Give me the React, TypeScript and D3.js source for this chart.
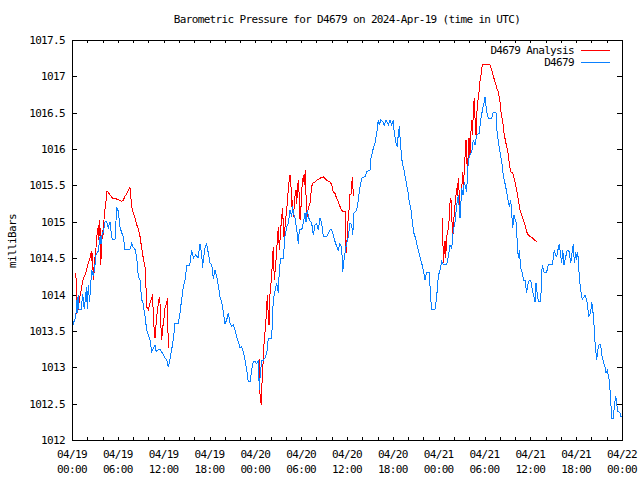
import React from "react";
import * as d3 from "d3";

// ---- data: hours after 2024-04-19 00:00 UTC and pressure (mb) ----
const obsHours = [
  0, 0.17, 0.5, 0.62, 0.7, 0.8, 0.92, 1.2, 1.4, 1.6, 1.9, 2.0, 2.13, 2.3, 2.58, 2.79, 3.0, 3.14, 3.44, 3.67,
  3.8, 3.97, 4.1, 4.32, 4.54, 4.75, 4.97, 5.2, 5.4, 5.63, 5.85, 6.06, 6.28, 6.5, 6.72, 6.94, 7.59, 7.81, 8.0, 8.25,
  8.47, 8.68, 8.9, 9.12, 9.3, 9.56, 9.78, 9.99, 10.2, 10.43, 10.6, 10.87, 11.0, 11.52, 11.8, 12.17, 12.4, 12.61, 12.8, 13.05,
  13.3, 13.48, 13.9, 14.14, 14.35, 14.57, 14.8, 15.02, 15.4, 15.67, 15.9, 16.2, 16.5, 16.76,
  16.98, 17.11, 17.19, 17.41, 17.63, 17.84, 18.07, 18.29, 18.5, 18.72, 18.94, 19.15, 19.37, 19.6, 19.81, 20.03, 20.25, 20.46, 20.68, 20.91,
  21.12, 21.34, 21.56, 21.77, 21.99, 22.22, 22.43, 22.65, 22.87, 23.08, 23.3, 23.52, 23.73, 23.96, 24.18, 24.39, 24.52, 24.68, 24.87, 25.04,
  25.27, 25.49, 25.7, 26.14, 26.35, 26.57, 26.8, 27.01, 27.14, 27.32, 27.66, 27.88, 28.11, 28.32, 28.54, 28.76, 28.89, 28.97, 29.19, 29.42,
  29.63, 29.76, 30.07, 30.28, 30.5, 30.63, 30.8, 31.06, 31.38, 31.59, 31.81, 32.03, 32.24, 32.47, 32.69, 32.9, 33.34, 33.77, 34.0, 34.21,
  34.43, 34.65, 34.86, 35.08, 35.31, 35.44, 35.57, 35.87, 36.17, 36.39, 36.62, 36.75, 36.92, 37.27, 37.48, 37.7, 37.92, 38.36, 38.58, 39.01,
  39.14, 39.44, 39.67, 39.89, 40.1, 40.23, 40.41, 40.67, 40.88, 41.11, 41.41, 41.63, 41.85, 42.06, 42.19, 42.42, 42.59, 42.72, 42.85, 42.94,
  43.07, 43.24, 43.46, 43.68, 43.94, 44.12, 44.38, 44.55, 44.77, 44.99, 45.2, 45.56, 45.78, 45.99, 46.21, 46.43, 46.77, 46.96, 47.09, 47.52,
  47.74, 47.95, 48.17, 48.4, 48.61, 49.05, 49.26, 49.48, 49.71, 49.92, 50.14, 50.36, 50.57, 50.79, 51.02, 51.19, 51.36, 51.67, 51.8, 52.01,
  52.33, 52.53, 52.76, 52.98, 53.32, 53.5, 53.77, 53.94, 54.07, 54.29, 54.5, 54.94, 55.07, 55.24, 55.5, 55.6, 55.81, 56.03, 56.25, 56.46,
  56.68, 56.91, 57.12, 57.25, 57.43, 57.56, 57.69, 57.86, 58.12, 58.29, 58.42, 58.56, 58.74, 59.0, 59.08, 59.3, 59.52, 59.65, 59.86, 60.08,
  60.31, 60.48, 60.61, 60.74, 60.96, 61.13, 61.36, 61.49, 61.57, 61.79, 62.14, 62.35, 62.87, 63.0, 63.13, 63.29, 63.45, 63.66, 63.79, 63.97,
  64.1, 64.24, 64.41, 64.63, 64.84, 65.1, 65.28, 65.42, 65.63, 65.76, 65.94, 66.07, 66.2, 66.37, 66.5, 66.63, 66.8, 67.02, 67.15, 67.38,
  67.51, 67.68, 67.9, 68.03, 68.16, 68.33, 68.42, 68.6, 68.69, 68.82, 68.99, 69.21, 69.34, 69.55, 69.77, 69.9, 70.08, 70.34, 70.52, 70.65,
  70.86, 70.99, 71.18, 71.31, 71.39, 71.52, 71.74, 71.83, 72.0,
];
const obsValues = [
  1013.70, 1013.60, 1013.70, 1013.92, 1013.75, 1014.00, 1013.80, 1013.80, 1014.00, 1013.80, 1014.10, 1013.80, 1014.13, 1013.90, 1014.34, 1014.25, 1014.40, 1014.54, 1014.60, 1014.80,
  1014.70, 1014.85, 1014.85, 1015.00, 1015.00, 1014.92, 1015.00, 1014.78, 1014.75, 1014.76, 1015.19, 1015.15, 1014.93, 1014.85, 1014.80, 1014.62, 1014.62, 1014.70, 1014.65, 1014.62,
  1014.52, 1014.25, 1014.20, 1013.93, 1013.88, 1013.70, 1013.51, 1013.44, 1013.38, 1013.22, 1013.25, 1013.30, 1013.22, 1013.25, 1013.20, 1013.13, 1013.10, 1013.00, 1013.10, 1013.24,
  1013.42, 1013.60, 1013.60, 1013.75, 1013.93, 1014.10, 1014.20, 1014.40, 1014.40, 1014.61, 1014.50, 1014.55, 1014.50, 1014.70,
  1014.54, 1014.37, 1014.48, 1014.64, 1014.70, 1014.57, 1014.43, 1014.41, 1014.22, 1014.34, 1014.25, 1014.13, 1013.97, 1013.90, 1013.76, 1013.60, 1013.65, 1013.75, 1013.61, 1013.56,
  1013.58, 1013.51, 1013.42, 1013.35, 1013.27, 1013.28, 1013.21, 1013.10, 1012.96, 1012.80, 1012.80, 1012.96, 1013.08, 1013.08, 1013.05, 1013.10, 1012.69, 1012.96, 1013.10, 1013.10,
  1013.13, 1013.19, 1013.40, 1013.40, 1013.93, 1014.04, 1014.16, 1014.02, 1014.34, 1014.50, 1014.50, 1014.80, 1014.93, 1014.98, 1015.16, 1015.07, 1015.21, 1015.12, 1015.05, 1014.89,
  1014.70, 1014.89, 1014.89, 1014.98, 1015.12, 1015.00, 1015.16, 1015.03, 1014.98, 1014.82, 1014.96, 1014.98, 1014.89, 1015.05, 1014.98, 1014.80, 1014.80, 1014.89, 1014.89, 1014.82,
  1014.73, 1014.66, 1014.61, 1014.70, 1014.64, 1014.31, 1014.45, 1014.66, 1014.80, 1014.98, 1014.96, 1014.82, 1015.12, 1015.16, 1015.30, 1015.48, 1015.60, 1015.62, 1015.69, 1015.71,
  1015.87, 1016.01, 1016.08, 1016.22, 1016.40, 1016.33, 1016.40, 1016.38, 1016.33, 1016.40, 1016.33, 1016.40, 1016.33, 1016.40, 1016.22, 1016.08, 1016.03, 1016.22, 1016.31, 1016.17,
  1015.99, 1015.80, 1015.71, 1015.58, 1015.44, 1015.30, 1015.16, 1015.00, 1014.84, 1014.77, 1014.66, 1014.52, 1014.43, 1014.34, 1014.20, 1014.31, 1014.31, 1013.93, 1013.80, 1013.80,
  1013.97, 1014.25, 1014.34, 1014.45, 1014.41, 1014.41, 1014.52, 1014.68, 1014.64, 1014.89, 1015.00, 1015.23, 1015.37, 1015.05, 1015.46, 1015.37, 1015.55, 1015.41, 1015.74, 1015.90,
  1015.96, 1016.12, 1016.06, 1016.19, 1016.22, 1016.40, 1016.56, 1016.63, 1016.72, 1016.51, 1016.42, 1016.42, 1016.49, 1016.51, 1016.51, 1016.29, 1016.10, 1015.96, 1015.83, 1015.64,
  1015.53, 1015.41, 1015.28, 1015.21, 1015.30, 1015.12, 1014.91, 1015.09, 1015.00, 1014.73, 1014.50, 1014.61, 1014.36, 1014.29, 1014.20, 1014.20, 1014.02, 1014.13, 1014.20, 1014.18,
  1014.04, 1013.97, 1013.90, 1014.16, 1013.95, 1013.90, 1013.90, 1014.29, 1014.41, 1014.31, 1014.31, 1014.41, 1014.41, 1014.50, 1014.61, 1014.54, 1014.52, 1014.64, 1014.70, 1014.54,
  1014.43, 1014.61, 1014.41, 1014.52, 1014.61, 1014.59, 1014.43, 1014.54, 1014.70, 1014.43, 1014.59, 1014.48, 1014.59, 1014.31, 1014.15, 1014.04, 1013.93, 1013.97, 1013.99, 1013.93,
  1013.81, 1013.70, 1013.76, 1013.90, 1013.81, 1013.60, 1013.40, 1013.19, 1013.10, 1013.24, 1013.31, 1013.31, 1013.17, 1013.08, 1013.01, 1012.92, 1012.96, 1012.82, 1012.55, 1012.30,
  1012.30, 1012.46, 1012.60, 1012.53, 1012.39, 1012.39, 1012.37, 1012.32, 1012.32,
];

// analysis series: null marks a gap between segments
const anaHours = [
  0.52, 0.56, 0.69, 0.82, 0.96, 1.14, 1.27, 1.48, 1.7, 1.92, 2.13, 2.36, 2.49, 2.58, 2.66, 2.71, 2.79, 2.92, 3.01, 3.14,
  3.23, 3.36, 3.44, 3.53, 3.57, 3.67, 3.76, 3.89, 4.02, 4.1, 4.23, 4.41, 4.54, 4.67, 4.97, 5.33, 5.63, 5.93, 6.19, 6.51,
  6.72, 6.94, 7.16, 7.59, 7.81, 8.02, 8.25, 8.47, 8.68, 8.9, 9.12, 9.33, 9.56, 9.69, 9.78, 9.99, 10.21, 10.43, 10.56, 10.64,
  10.77, 10.87, 11.09, 11.3, 11.43, 11.52, 11.65, 11.74, 11.87, 12.04, 12.17, 12.4, 12.48, 12.61,
  null,
  24.52, 24.61, 24.78, 24.91, 25.04, 25.13, 25.36, 25.49, 25.57, 25.66, 25.79, 25.92, 26.14, 26.27, 26.35, 26.48, 26.61, 26.8, 26.88, 27.01,
  27.14, 27.32, 27.45, 27.58, 27.66, 27.79, 27.92, 28.11, 28.24, 28.41, 28.54, 28.67, 28.76, 28.84, 28.97, 29.1, 29.19, 29.32, 29.42, 29.54,
  29.68, 29.76, 29.85, 29.98, 30.11, 30.28, 30.41, 30.54, 30.63, 30.72, 30.85, 30.98, 31.15, 31.28, 31.46, 31.81, 32.03, 32.47, 32.9, 33.34,
  33.77, 34.0, 34.21, 34.43, 34.65, 34.86, 35.08, 35.31, 35.51, 35.78, 35.83, 35.96, 36.04, 36.17, 36.3, 36.39, 36.52, 36.62, 36.72, 36.83,
  null,
  48.5, 48.61, 48.83, 48.92, 49.05, 49.26, 49.39, 49.48, 49.61, 49.71, 49.84, 49.92, 50.05, 50.23, 50.36, 50.44, 50.57, 50.7, 50.79, 50.92,
  51.05, 51.15, 51.22, 51.36, 51.49, 51.58, 51.67, 51.8, 51.88, 51.97, 52.1, 52.23, 52.36, 52.45, 52.53, 52.66, 52.76, 52.89, 52.98, 53.11,
  53.24, 53.41, 53.54, 53.71, 54.72, 54.94, 55.15, 55.37, 55.6, 55.81, 56.03, 56.16, 56.38, 56.55, 56.73, 56.91, 57.12, 57.25, 57.43, 57.69,
  57.99, 58.21, 58.42, 58.65, 58.87, 59.08, 59.3, 59.52, 59.73, 59.95, 60.39, 60.61, 60.83,
];
const anaValues = [
  1014.29, 1013.74, 1013.79, 1013.79, 1013.93, 1014.02, 1014.11, 1014.22, 1014.27, 1014.34, 1014.43, 1014.50, 1014.57, 1014.59, 1014.34, 1014.57, 1014.20, 1014.34, 1014.52, 1014.64,
  1014.80, 1014.86, 1014.96, 1014.75, 1015.02, 1014.91, 1014.41, 1014.70, 1014.89, 1014.82, 1015.12, 1015.23, 1015.42, 1015.42, 1015.37, 1015.32, 1015.32, 1015.31, 1015.30, 1015.28,
  1015.30, 1015.35, 1015.39, 1015.47, 1015.21, 1015.12, 1015.05, 1014.96, 1014.91, 1014.80, 1014.64, 1014.50, 1014.38, 1014.09, 1013.83, 1013.79, 1013.88, 1013.95, 1014.00, 1013.70,
  1013.51, 1013.40, 1013.70, 1013.88, 1013.97, 1013.88, 1013.54, 1013.38, 1013.54, 1013.67, 1013.81, 1013.88, 1013.95, 1013.26,
  null,
  1013.12, 1012.64, 1012.48, 1012.89, 1013.10, 1013.31, 1013.60, 1013.83, 1014.00, 1013.79, 1013.58, 1014.00, 1014.27, 1014.52, 1014.66, 1014.20, 1014.34, 1014.61, 1014.75, 1014.93,
  1014.61, 1014.89, 1015.07, 1015.19, 1014.93, 1014.75, 1015.00, 1015.16, 1015.35, 1015.55, 1015.64, 1015.48, 1015.21, 1015.30, 1015.07, 1015.21, 1015.35, 1015.44, 1015.25, 1015.51,
  1015.57, 1015.23, 1015.03, 1015.21, 1015.48, 1015.64, 1015.51, 1015.71, 1015.39, 1015.03, 1015.14, 1015.21, 1015.25, 1015.39, 1015.53, 1015.55, 1015.57, 1015.60, 1015.62, 1015.57,
  1015.55, 1015.51, 1015.41, 1015.39, 1015.32, 1015.28, 1015.21, 1015.16, 1015.14, 1015.14, 1014.61, 1014.57, 1014.93, 1015.05, 1015.21, 1015.37, 1015.37, 1015.53, 1015.62, 1015.35,
  null,
  1015.05, 1014.43, 1014.73, 1014.50, 1014.80, 1014.91, 1015.05, 1015.25, 1015.32, 1015.09, 1014.75, 1014.91, 1015.14, 1015.32, 1015.46, 1015.35, 1015.60, 1015.37, 1015.05, 1015.28,
  1015.51, 1015.69, 1015.41, 1015.74, 1015.96, 1016.12, 1015.83, 1015.74, 1016.01, 1016.15, 1015.92, 1016.24, 1016.40, 1016.19, 1016.56, 1016.70, 1016.42, 1016.19, 1016.47, 1016.65,
  1016.74, 1016.93, 1017.02, 1017.16, 1017.16, 1017.09, 1017.00, 1016.93, 1016.84, 1016.79, 1016.65, 1016.51, 1016.38, 1016.22, 1016.12, 1016.03, 1015.92, 1015.80, 1015.69, 1015.67,
  1015.55, 1015.44, 1015.30, 1015.16, 1015.09, 1015.03, 1014.96, 1014.86, 1014.82, 1014.80, 1014.77, 1014.74, 1014.73,
];

const yTickValues = [1012, 1012.5, 1013, 1013.5, 1014, 1014.5, 1015, 1015.5, 1016, 1016.5, 1017, 1017.5];
const xLabelHours = [0, 6, 12, 18, 24, 30, 36, 42, 48, 54, 60, 66, 72];
const xMinorHours = [0, 2, 4, 6, 8, 10, 12, 14, 16, 18, 20, 22, 24, 26, 28, 30, 32, 34, 36, 38, 40, 42, 44, 46, 48, 50, 52, 54, 56, 58, 60, 62, 64, 66, 68, 70, 72];
const seriesNames = ["D4679 Analysis", "D4679"];
const seriesColors = ["#ff0000", "#0a80ff"];
const titleText = "Barometric Pressure for D4679 on 2024-Apr-19 (time in UTC)";
const yLabelText = "milliBars";

const START = Date.UTC(2024, 3, 19, 0, 0);
const toDate = (h: number) => new Date(START + h * 3600000);

const W = 640, H = 480;
const L = 72, R = 622, T = 40, B = 440;
const FONT = "'DejaVu Sans Mono', 'Liberation Mono', monospace";

export default function App() {
  const x = d3.scaleUtc().domain([toDate(0), toDate(72)]).range([L, R]);
  const y = d3.scaleLinear().domain([1012, 1017.5]).range([B, T]);

  type P = { t: number | null; v: number | null };
  const obs: P[] = obsHours.map((t, i) => ({ t, v: obsValues[i] }));
  const ana: P[] = anaHours.map((t, i) => ({ t, v: anaValues[i] }));

  const line = d3
    .line<P>()
    .defined((d) => d.t != null && d.v != null)
    .x((d) => x(toDate(d.t as number)))
    .y((d) => y(d.v as number));

  const fmtDay = d3.utcFormat("%m/%d");
  const fmtTime = d3.utcFormat("%H:%M");

  const textStyle: React.CSSProperties = { fontFamily: FONT, fontSize: 11, letterSpacing: -0.65 };

  return (
    <svg width={W} height={H} style={{ position: "absolute", left: 0, top: 0, background: "#fff" }}>
      <rect x={0} y={0} width={W} height={H} fill="#fff" />
      {/* title */}
      <text x={(L + R) / 2} y={23} textAnchor="middle" style={textStyle} fill="#000">
        {titleText}
      </text>
      {/* y label */}
      <text
        transform={`translate(16,241) rotate(-90)`}
        textAnchor="middle"
        style={textStyle}
        fill="#000"
      >
        {yLabelText}
      </text>

      {/* y ticks */}
      <g shapeRendering="crispEdges" stroke="#000">
        {yTickValues.map((v) => (
          <g key={"yt" + v}>
            <line x1={L} x2={L + 5} y1={Math.round(y(v)) + 0.5} y2={Math.round(y(v)) + 0.5} />
            <line x1={R - 5} x2={R} y1={Math.round(y(v)) + 0.5} y2={Math.round(y(v)) + 0.5} />
          </g>
        ))}
        {xMinorHours.map((h) => {
          const px = Math.round(x(toDate(h))) + 0.5;
          return (
            <g key={"xt" + h}>
              <line x1={px} x2={px} y1={B} y2={B - 3} />
              <line x1={px} x2={px} y1={T} y2={T + 3} />
            </g>
          );
        })}
      </g>
      {yTickValues.map((v) => (
        <text key={"yl" + v} x={65} y={y(v) + 4} textAnchor="end" style={textStyle} fill="#000">
          {String(v)}
        </text>
      ))}
      {xLabelHours.map((h) => {
        const d = toDate(h);
        const px = x(d);
        return (
          <g key={"xl" + h}>
            <text x={px} y={458} textAnchor="middle" style={textStyle} fill="#000">
              {fmtDay(d)}
            </text>
            <text x={px} y={473} textAnchor="middle" style={textStyle} fill="#000">
              {fmtTime(d)}
            </text>
          </g>
        );
      })}

      {/* series */}
      <path d={line(ana) || ""} fill="none" stroke={seriesColors[0]} strokeWidth={1} shapeRendering="crispEdges" />
      <path d={line(obs) || ""} fill="none" stroke={seriesColors[1]} strokeWidth={1} shapeRendering="crispEdges" />

      {/* border */}
      <rect x={L + 0.5} y={T + 0.5} width={R - L} height={B - T} fill="none" stroke="#000" shapeRendering="crispEdges" />

      {/* legend */}
      {seriesNames.map((name, i) => (
        <g key={name}>
          <text x={574} y={54 + i * 12} textAnchor="end" style={textStyle} fill="#000">
            {name}
          </text>
          <line
            x1={581}
            x2={610}
            y1={50.5 + i * 12}
            y2={50.5 + i * 12}
            stroke={seriesColors[i]}
            shapeRendering="crispEdges"
          />
        </g>
      ))}
    </svg>
  );
}
